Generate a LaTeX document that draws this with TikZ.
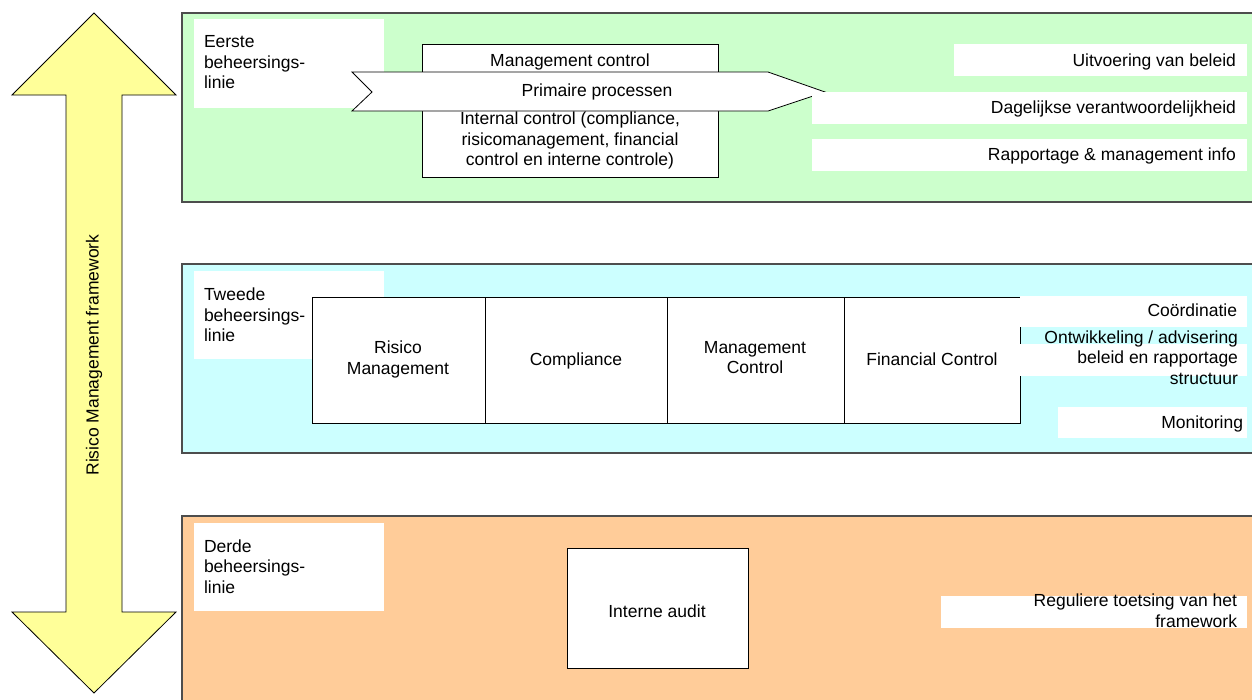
\documentclass[tikz,border=0pt]{standalone}
\usepackage{fontspec}
\setmainfont{Liberation Sans}
\definecolor{greenbg}{HTML}{CCFFCC}
\definecolor{cyanbg}{HTML}{CCFFFF}
\definecolor{orangebg}{HTML}{FFCC99}
\definecolor{yellowbg}{HTML}{FFFF99}
\definecolor{panelline}{HTML}{4D4D4D}
\begin{document}
\begin{tikzpicture}[x=1pt, y=-1pt,
  every node/.style={font=\fontsize{17.5}{20.5}\selectfont, outer sep=0pt},
  panel/.style={draw=panelline, line width=1.2pt, anchor=north west, inner sep=0pt},
  wbox/.style={fill=white, anchor=north west, inner sep=0pt},
  cbox/.style={draw=black, line width=0.8pt, fill=white, anchor=north west, inner sep=0pt},
  txt/.style={inner sep=0pt, text=black}]
\clip (0,0) rectangle (1252,699);
\fill[white] (0,0) rectangle (1252,699);

% three lines of control
\node[panel, fill=greenbg, minimum width=1080pt, minimum height=189pt] (line1) at (182,13) {};
\node[panel, fill=cyanbg, minimum width=1080pt, minimum height=189pt] (line2) at (182,264) {};
\node[panel, fill=orangebg, minimum width=1080pt, minimum height=200pt] (line3) at (182,516) {};

% line labels
\node[wbox, minimum width=190pt, minimum height=89pt] (lab1) at (194,19) {};
\node[wbox, minimum width=190pt, minimum height=88pt] (lab2) at (194,271) {};
\node[wbox, minimum width=190pt, minimum height=88pt] (lab3) at (194,523) {};
\node[txt, anchor=north west, align=left] (lab1t) at (204,35.8) {Eerste\\beheersings-\\linie};
\node[txt, anchor=north west, align=left] (lab2t) at (204,288) {Tweede\\beheersings-\\linie};
\node[txt, anchor=north west, align=left] (lab3t) at (204,539.7) {Derde\\beheersings-\\linie};

% framework double arrow
\draw[fill=yellowbg, line width=0.8pt] (94,13) -- (176,95) -- (122,95) -- (122,612) -- (176,612)
  -- (94,693) -- (12,612) -- (66,612) -- (66,95) -- (12,95) -- cycle;
\node[txt, rotate=90] (frame) at (94,355) {Risico Management framework};

% first line
\node[cbox, minimum width=296pt, minimum height=133pt] (ctrl) at (422,44) {};
\node[txt, anchor=base] (mctl) at (570,66.5) {Management control};
\node[txt, anchor=north, align=center] (ictl) at (570,112.2)
  {Internal control (compliance,\\risicomanagement, financial\\control en interne controle)};
\draw[fill=white, line width=0.8pt] (352,72) -- (768,72) -- (825,92) -- (768,111) -- (352,111) -- (372,92) -- cycle;
\node[txt, anchor=base] (prim) at (597,96.5) {Primaire processen};

\node[wbox, minimum width=293pt, minimum height=32pt] (uitb) at (954,44) {};
\node[wbox, minimum width=435pt, minimum height=32pt] (dagb) at (812,92) {};
\node[wbox, minimum width=435pt, minimum height=32pt] (rapb) at (812,139) {};
\node[txt, anchor=base east] (uit) at (1236,66) {Uitvoering van beleid};
\node[txt, anchor=base east] (dag) at (1236,113.3) {Dagelijkse verantwoordelijkheid};
\node[txt, anchor=base east] (rap) at (1236,160) {Rapportage \& management info};

% second line
\node[cbox, minimum width=173pt, minimum height=126pt] (risb) at (312,297) {};
\node[cbox, minimum width=182pt, minimum height=126pt] (comb) at (485,297) {};
\node[cbox, minimum width=177pt, minimum height=126pt] (mcob) at (667,297) {};
\node[cbox, minimum width=176pt, minimum height=126pt] (finb) at (844,297) {};
\node[txt, anchor=north, align=center] (ris) at (398,341.2) {Risico\\Management};
\node[txt, anchor=base] (com) at (576,365) {Compliance};
\node[txt, anchor=north, align=center] (mco) at (755,341.2) {Management\\Control};
\node[txt, anchor=base] (fin) at (932,365) {Financial Control};

\node[wbox, minimum width=227pt, minimum height=31pt] (coob) at (1020,296) {};
\node[wbox, minimum width=227pt, minimum height=32pt] (ontb) at (1020,344) {};
\node[wbox, minimum width=189pt, minimum height=31pt] (monb) at (1058,407) {};
\node[txt, anchor=base east] (coo) at (1237,316.7) {Coördinatie};
\node[txt, anchor=north east, align=right] (ont) at (1238,330.5)
  {Ontwikkeling / advisering\\beleid en rapportage\\structuur};
\node[txt, anchor=base east] (mon) at (1243,428) {Monitoring};

% third line
\node[cbox, minimum width=181pt, minimum height=120pt] (audb) at (567,548) {};
\node[txt, anchor=base] (aud) at (657,617) {Interne audit};
\node[wbox, minimum width=306pt, minimum height=32pt] (regb) at (941,596) {};
\node[txt, anchor=north east, align=right] (reg) at (1237,594.2)
  {Reguliere toetsing van het\\framework};
\end{tikzpicture}
\end{document}
